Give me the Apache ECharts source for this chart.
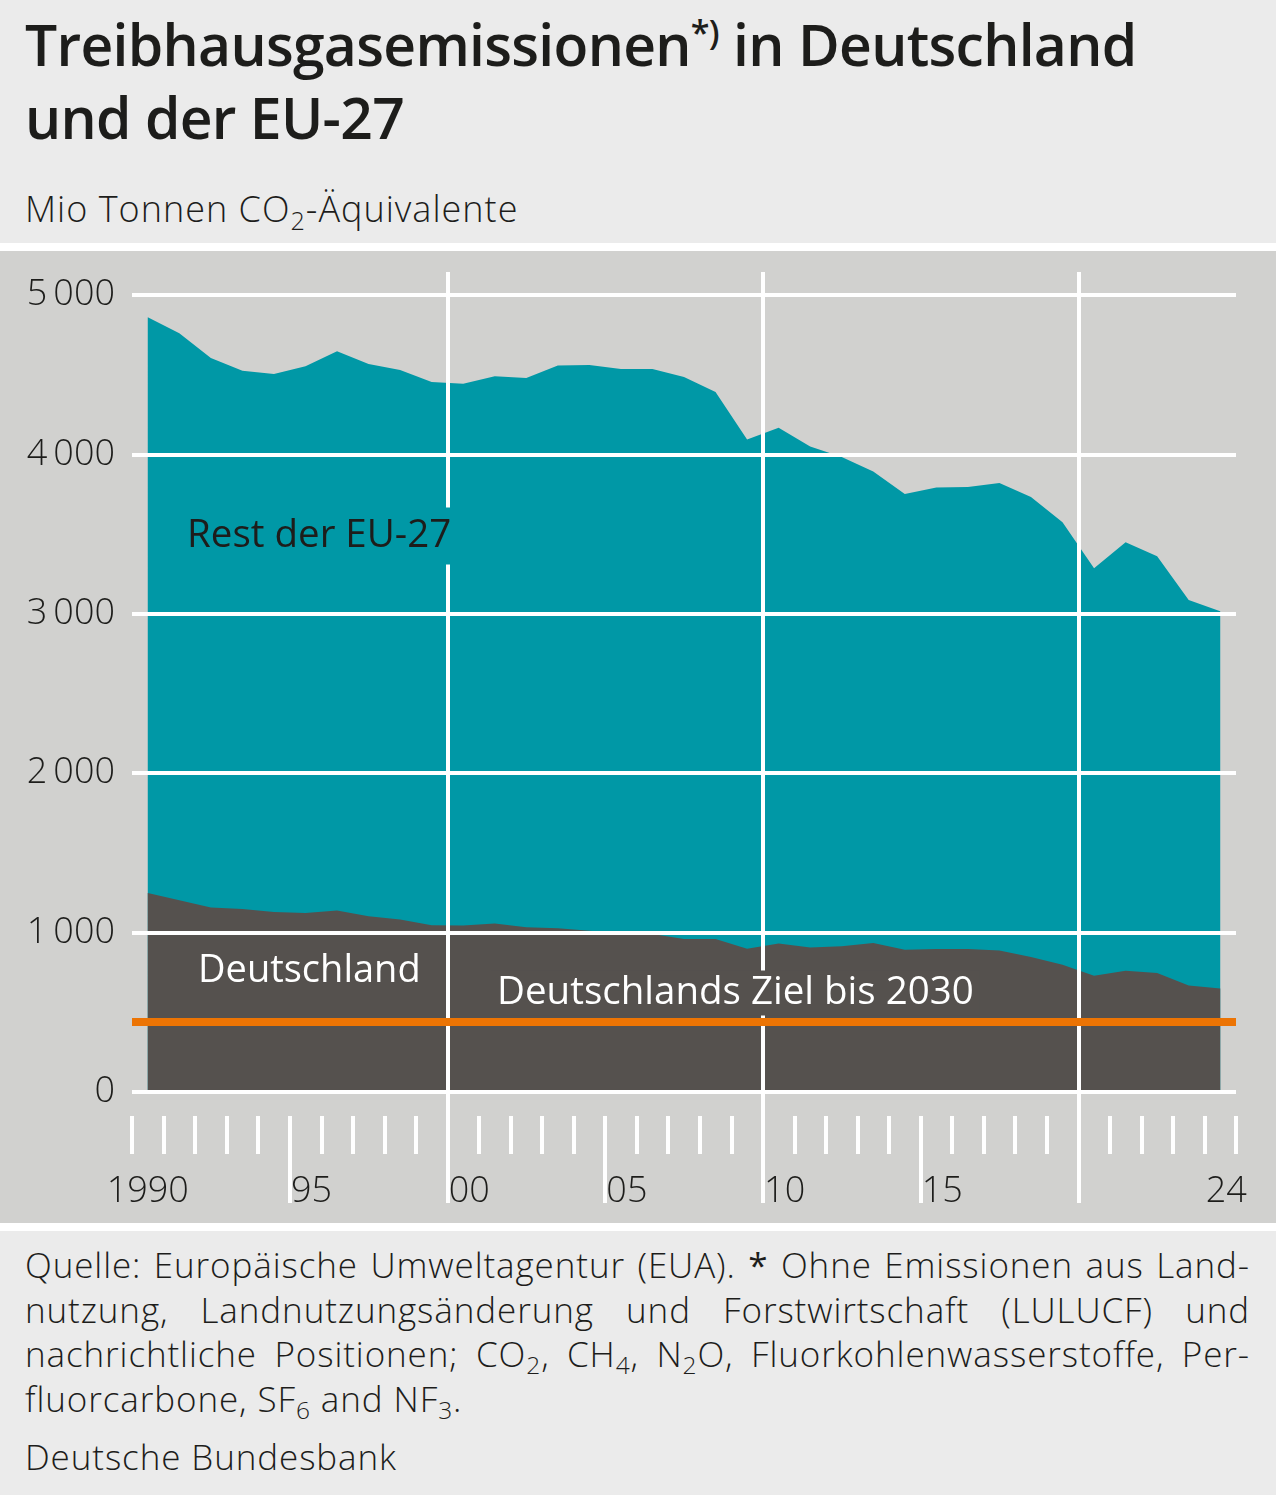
<!DOCTYPE html>
<html>
<head>
<meta charset="utf-8">
<script src="https://cdn.jsdelivr.net/npm/echarts@6/dist/echarts.min.js"></script>
<style>
  html, body { margin: 0; padding: 0; background: #ebebeb; }
  body { width: 1276px; height: 1495px; position: relative; overflow: hidden; font-family: "Open Sans", sans-serif; color: #1d1d1b; }
  .line { position: absolute; left: 25px; line-height: 1.362; white-space: nowrap; }
  .title { font-size: 57px; font-weight: 600; letter-spacing: -0.7px; }
  .sub { font-size: 36px; font-weight: 300; letter-spacing: 1px; }
  .foot { font-size: 35px; font-weight: 300; letter-spacing: 0.9px; }
  .just { width: 1225px; white-space: normal; text-align: justify; text-align-last: justify; }
  sub { font-size: 70%; vertical-align: -0.3em; line-height: 0; }
  sup { font-size: 60%; vertical-align: 0.6em; line-height: 0; }
  .band { position: absolute; left: 0; width: 1276px; background: #ffffff; }
  #main { position: absolute; left: 0; top: 251px; width: 1276px; height: 972px; }
</style>
</head>
<body>
<div class="line title" style="top:6px">Treibhausgasemissionen<sup>*)</sup> in Deutschland</div>
<div class="line title" style="top:79px">und der EU-27</div>
<div class="line sub" style="top:184px">Mio Tonnen CO<sub>2</sub>-Äquivalente</div>
<div class="band" style="top:243px;height:8px"></div>
<div id="main"></div>
<div class="band" style="top:1223px;height:8px"></div>
<div class="line foot just" style="top:1241px">Quelle: Europäische Umweltagentur (EUA). <b>*</b> Ohne Emissionen aus Land-</div>
<div class="line foot just" style="top:1286px">nutzung, Landnutzungsänderung und Forstwirtschaft (LULUCF) und</div>
<div class="line foot just" style="top:1330px">nachrichtliche Positionen; CO<sub>2</sub>, CH<sub>4</sub>, N<sub>2</sub>O, Fluorkohlenwasserstoffe, Per-</div>
<div class="line foot" style="top:1375px">fluorcarbone, SF<sub>6</sub> and NF<sub>3</sub>.</div>
<div class="line foot" style="top:1433px">Deutsche Bundesbank</div>
<script>
// Jahre (Kategorien, Punkte in der Mitte des Jahres)
var years = ['1990', '1991', '1992', '1993', '1994', '1995', '1996', '1997', '1998', '1999',
    '2000', '2001', '2002', '2003', '2004', '2005', '2006', '2007', '2008', '2009',
    '2010', '2011', '2012', '2013', '2014', '2015', '2016', '2017', '2018', '2019',
    '2020', '2021', '2022', '2023', '2024'];
// Jahresgrenzen fuer die Striche
var tickYears = years.concat(['2025']);

// EU-27 insgesamt (Oberkante der Flaeche), Mio t CO2-Aeq.
var eu27Total = [4860, 4760, 4605, 4525, 4504, 4553, 4647, 4567, 4530, 4454,
    4444, 4490, 4479, 4557, 4561, 4536, 4536, 4486, 4392, 4093,
    4167, 4049, 3984, 3892, 3751, 3792, 3795, 3820, 3732, 3575,
    3285, 3449, 3361, 3087, 3016];
// Deutschland
var germany = [1248, 1203, 1158, 1148, 1129, 1123, 1138, 1102, 1082, 1046,
    1044, 1057, 1034, 1028, 1012, 993, 992, 960, 960, 898,
    931, 906, 914, 934, 893, 897, 897, 887, 847, 799,
    730, 761, 747, 668, 649];
var germanyTarget2030 = 438;

var yTicks = [0, 1000, 2000, 3000, 4000, 5000];
var yTickLabels = ['0', '1\u2009000', '2\u2009000', '3\u2009000', '4\u2009000', '5\u2009000'];
var xLabelYears = ['1990', '1995', '2000', '2005', '2010', '2015', '2024'];
var xLabelTexts = ['1990', '95', '00', '05', '10', '15', '24'];
var longTickYears = ['1995', '2005', '2015'];
var gridYears = ['2000', '2010', '2020'];

var TEAL = '#0098a6',
    DARK = '#55514e',
    ORANGE = '#ec7404',
    WHITE = '#ffffff',
    INK = '#1d1d1b',
    FONT = 'Open Sans';

var chart = echarts.init(document.getElementById('main'));

chart.setOption({
    backgroundColor: '#d1d1cf',
    animation: false,
    textStyle: {fontFamily: FONT},
    grid: [
        {left: 132, right: 40, top: 44, bottom: 131},
        {left: 132, right: 40, top: 21, bottom: 20}   // nur fuer die senkrechten Linien
    ],
    xAxis: [
        {
            type: 'category', gridIndex: 0, position: 'bottom', data: years, boundaryGap: true,
            axisLine: {show: false}, axisTick: {show: false}, splitLine: {show: false},
            axisLabel: {
                interval: function (i, v) { return xLabelYears.indexOf(v) >= 0; },
                margin: 100, verticalAlign: 'middle',
                fontSize: 36, fontWeight: 300, color: INK, fontFamily: FONT,
                formatter: function (v) {
                    var t = xLabelTexts[xLabelYears.indexOf(v)];
                    return t.length === 2 ? '{s|' + t + '}' : t;
                },
                rich: {s: {fontSize: 36, fontWeight: 300, color: INK, fontFamily: FONT, padding: [0, 0, 0, 12]}}
            }
        },
        {
            // kurze Striche an jeder Jahresgrenze
            type: 'category', gridIndex: 0, position: 'bottom', offset: 24, data: tickYears, boundaryGap: false,
            axisLine: {show: false}, axisLabel: {show: false}, splitLine: {show: false},
            axisTick: {show: true, interval: 0, length: 38, lineStyle: {color: WHITE, width: 4}},
            z: 3
        },
        {
            // lange Striche 1995, 2005, 2015
            type: 'category', gridIndex: 0, position: 'bottom', offset: 24, data: tickYears, boundaryGap: false,
            axisLine: {show: false}, axisLabel: {show: false}, splitLine: {show: false},
            axisTick: {
                show: true, length: 87, lineStyle: {color: WHITE, width: 4},
                interval: function (i, v) { return longTickYears.indexOf(v) >= 0; }
            },
            z: 3
        },
        {
            // senkrechte Gitterlinien 2000, 2010, 2020
            type: 'category', gridIndex: 1, position: 'bottom', data: tickYears, boundaryGap: false,
            axisLine: {show: false}, axisLabel: {show: false}, axisTick: {show: false},
            splitLine: {
                show: true, lineStyle: {color: WHITE, width: 4},
                interval: function (i, v) { return gridYears.indexOf(v) >= 0; }
            },
            z: 3
        }
    ],
    yAxis: [
        {
            type: 'value', gridIndex: 0, min: 0, max: 5000, interval: 1000,
            axisLine: {show: false}, axisTick: {show: false},
            axisLabel: {
                margin: 17, fontSize: 36, fontWeight: 300, color: INK, fontFamily: FONT,
                formatter: function (v) { return yTickLabels[yTicks.indexOf(v)]; }
            },
            splitLine: {lineStyle: {color: WHITE, width: 4}},
            z: 3
        },
        {type: 'value', gridIndex: 1, show: false}
    ],
    series: [
        {
            name: 'EU-27', type: 'line', xAxisIndex: 0, yAxisIndex: 0, data: eu27Total,
            symbol: 'none', silent: true, lineStyle: {width: 0},
            areaStyle: {color: TEAL, opacity: 1}, z: 1
        },
        {
            name: 'Deutschland', type: 'line', xAxisIndex: 0, yAxisIndex: 0, data: germany,
            symbol: 'none', silent: true, lineStyle: {width: 0},
            areaStyle: {color: DARK, opacity: 1}, z: 1,
            markLine: {
                silent: true, symbol: ['none', 'none'], animation: false,
                label: {show: false},
                lineStyle: {color: ORANGE, width: 8, type: 'solid'},
                data: [{yAxis: germanyTarget2030}]
            }
        }
    ],
    graphic: [
        {
            type: 'text', z: 10, x: 183, y: 285,
            style: {
                text: 'Rest der EU-27', fill: INK, font: '500 38.5px "Open Sans"',
                verticalAlign: 'middle', backgroundColor: TEAL, padding: [9, 4]
            }
        },
        {
            type: 'text', z: 10, x: 198, y: 720,
            style: {text: 'Deutschland', fill: WHITE, font: '500 38px "Open Sans"', verticalAlign: 'middle'}
        },
        {
            type: 'text', z: 10, x: 491, y: 742,
            style: {
                text: 'Deutschlands Ziel bis 2030', fill: WHITE, font: '500 38.5px "Open Sans"',
                verticalAlign: 'middle', backgroundColor: DARK, padding: [3, 6]
            }
        }
    ]
});
</script>
</body>
</html>
